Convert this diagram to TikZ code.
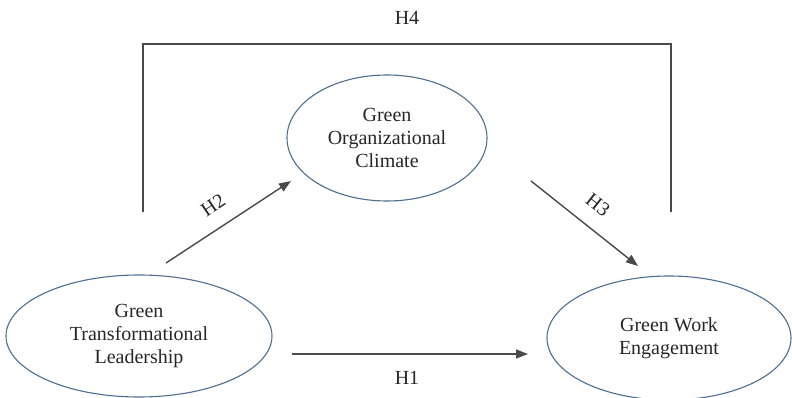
\documentclass[tikz,border=0pt]{standalone}
\usepackage{fontspec}
\setmainfont{Liberation Serif}
\usetikzlibrary{shapes.geometric,arrows.meta}
\definecolor{ellcol}{HTML}{4F6E8E}
\definecolor{linecol}{HTML}{4A4A4A}
\tikzset{
  construct/.style={ellipse, draw=ellcol, line width=1.1pt, inner sep=0pt, align=center,
    font=\fontsize{20}{23}\selectfont, text=black!85},
  path/.style={draw=linecol, line width=1.4pt, -{Triangle[length=12pt,width=9pt]}},
  bracket/.style={draw=linecol, line width=1.4pt},
  hlab/.style={font=\fontsize{20}{23}\selectfont, text=black!85, inner sep=0pt}
}
\begin{document}
\begin{tikzpicture}[x=1pt,y=-1pt]
\useasboundingbox (0,0) rectangle (792,398);
\node[construct, minimum width=266pt, minimum height=122pt] (gtl) at (139,336) {Green\\Transformational\\Leadership};
\node[construct, minimum width=200pt, minimum height=126pt] (goc) at (387,138) {Green\\Organizational\\Climate};
\node[construct, minimum width=244pt, minimum height=124pt] (gwe) at (669,338) {Green Work\\Engagement};
% endpoints
\coordinate (h1s) at (292,354);
\coordinate (h1e) at (528,354);
\coordinate (h2s) at (166,263);
\coordinate (h2e) at (291,181);
\coordinate (h3s) at (531,181);
\coordinate (h3e) at (638,266);
\coordinate (h4l) at (143,212);
\coordinate (h4r) at (671,212);
\coordinate (h4t) at (407,44);
\draw[path] (h1s) -- (h1e);
\draw[path] (h2s) -- (h2e);
\draw[path] (h3s) -- (h3e);
\draw[bracket] (h4l) |- (h4t) -| (h4r);
\node[hlab] (l1) at (407,378) {H1};
\node[hlab, rotate=34] (l2) at (213,205) {H2};
\node[hlab, rotate=-38] (l3) at (598,205) {H3};
\node[hlab] (l4) at (407,18) {H4};
\end{tikzpicture}
\end{document}
